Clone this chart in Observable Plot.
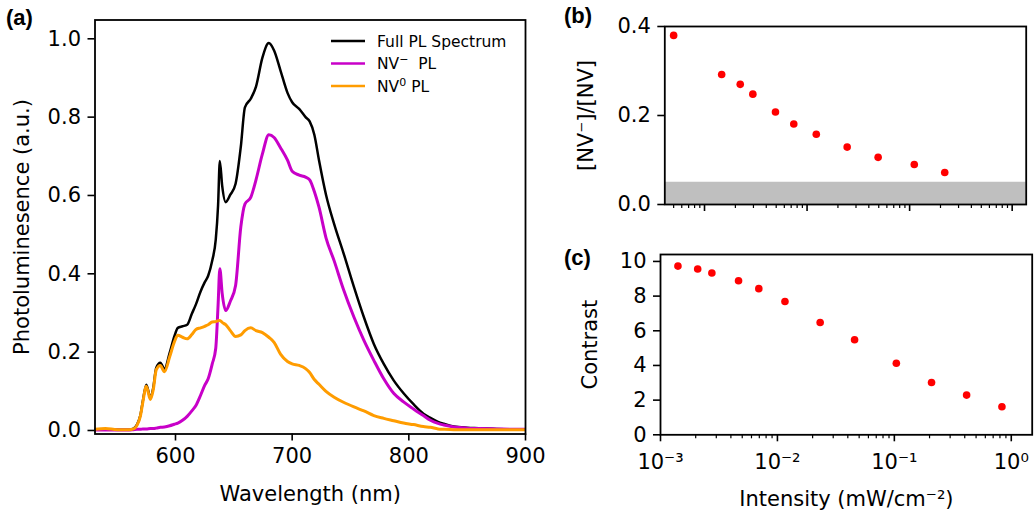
<!DOCTYPE html>
<html>
<head>
<meta charset="utf-8">
<script src="https://cdn.jsdelivr.net/npm/d3@7"></script>
<script src="https://cdn.jsdelivr.net/npm/@observablehq/plot@0.6"></script>
<style>
  html, body { margin: 0; padding: 0; background: #fff; }
  #root { position: relative; width: 1034px; height: 516px; overflow: hidden; background: #fff; }
  #root > svg, #root > div { position: absolute; }
  .overlay text { font-family: "DejaVu Sans", sans-serif; white-space: pre; }
  .overlay .plabel { font-family: "Liberation Sans", Arial, sans-serif; font-weight: bold; font-size: 22px; }
</style>
</head>
<body>
<div id="root"></div>
<script>
// ---------- Panel (a): PL spectra ----------
const wavelength = [531, 540, 550, 560, 564, 567, 570, 572, 575, 578.5, 581, 583.5, 587, 590.5, 595, 599, 602, 606, 610, 614, 617.5, 621.5, 625, 628, 631.5, 634.5, 636.5, 638, 640, 643, 647, 651.5, 656, 659.5, 664.5, 669, 674.5, 680, 684.5, 690, 696, 700, 706, 711.5, 715, 719, 723, 729, 736, 744, 753, 761.5, 770, 778.5, 787, 795.5, 804, 812.5, 818.5, 825, 830, 838.5, 850, 860, 875, 890, 900];
const fullPL = [0.002, 0.003, 0.002, 0.002, 0.005, 0.015, 0.04, 0.075, 0.117, 0.083, 0.11, 0.16, 0.173, 0.157, 0.198, 0.24, 0.262, 0.266, 0.27, 0.298, 0.322, 0.355, 0.378, 0.395, 0.434, 0.487, 0.575, 0.688, 0.625, 0.583, 0.602, 0.63, 0.725, 0.825, 0.847, 0.878, 0.952, 0.989, 0.97, 0.919, 0.862, 0.838, 0.821, 0.8, 0.789, 0.755, 0.69, 0.602, 0.527, 0.453, 0.366, 0.289, 0.221, 0.17, 0.128, 0.095, 0.067, 0.043, 0.032, 0.022, 0.017, 0.01, 0.007, 0.006, 0.004, 0.003, 0.003];
const nvMinusPL = [0.001, 0.001, 0.001, 0.001, 0.002, 0.003, 0.003, 0.004, 0.004, 0.005, 0.005, 0.006, 0.008, 0.009, 0.012, 0.016, 0.019, 0.026, 0.036, 0.05, 0.064, 0.09, 0.115, 0.132, 0.17, 0.21, 0.32, 0.413, 0.35, 0.306, 0.33, 0.37, 0.52, 0.578, 0.595, 0.64, 0.706, 0.755, 0.748, 0.722, 0.69, 0.662, 0.652, 0.647, 0.64, 0.61, 0.57, 0.492, 0.433, 0.36, 0.289, 0.23, 0.179, 0.132, 0.095, 0.073, 0.055, 0.038, 0.026, 0.018, 0.014, 0.009, 0.006, 0.005, 0.004, 0.003, 0.003];
const nv0PL = [0.003, 0.005, 0.002, 0.002, 0.004, 0.013, 0.038, 0.072, 0.113, 0.079, 0.105, 0.155, 0.166, 0.15, 0.188, 0.226, 0.243, 0.238, 0.234, 0.245, 0.258, 0.262, 0.266, 0.27, 0.277, 0.278, 0.28, 0.281, 0.276, 0.27, 0.255, 0.24, 0.244, 0.255, 0.262, 0.255, 0.25, 0.238, 0.225, 0.195, 0.176, 0.17, 0.166, 0.158, 0.148, 0.13, 0.118, 0.1, 0.085, 0.072, 0.06, 0.05, 0.038, 0.031, 0.025, 0.019, 0.015, 0.01, 0.008, 0.004, 0.003, 0.002, 0.002, 0.002, 0.002, 0.002, 0.002];
const wavelengthTicks = [600, 700, 800, 900];
const plTicks = [0, 0.2, 0.4, 0.6, 0.8, 1.0];

// ---------- Panel (b): charge-state ratio ----------
const ratioIntensity = [5.0e-4, 1.47e-3, 2.23e-3, 2.96e-3, 4.92e-3, 7.42e-3, 1.23e-2, 2.46e-2, 4.93e-2, 0.111, 0.22];
const ratio = [0.38, 0.292, 0.27, 0.248, 0.208, 0.181, 0.158, 0.129, 0.106, 0.09, 0.072];
const ratioBand = [0, 0.05];
const ratioTicks = [0, 0.2, 0.4];

// ---------- Panel (c): contrast ----------
const contrastIntensity = [1.41e-3, 2.08e-3, 2.75e-3, 4.65e-3, 6.93e-3, 1.16e-2, 2.32e-2, 4.57e-2, 0.104, 0.208, 0.415, 0.832];
const contrast = [9.73, 9.56, 9.33, 8.89, 8.43, 7.69, 6.48, 5.48, 4.13, 3.02, 2.29, 1.62];
const contrastTicks = [0, 2, 4, 6, 8, 10];
const decadeTicks = [1e-3, 1e-2, 1e-1, 1];
const decadeLabels = ["10⁻³", "10⁻²", "10⁻¹", "10⁰"];

// minor log ticks (2..9 x each decade)
const minorTicks = d3.range(-4, 1).flatMap(e => d3.range(2, 10).map(m => m * Math.pow(10, e)));

const root = document.getElementById("root");
const baseStyle = {fontFamily: '"DejaVu Sans", sans-serif', fontSize: "21px", color: "black", background: "transparent", overflow: "visible"};
function place(el, left, top) { el.style.left = left + "px"; el.style.top = top + "px"; root.appendChild(el); }

const spectrum = wavelength.map((w, i) => ({w, full: fullPL[i], nvm: nvMinusPL[i], nv0: nv0PL[i]}));

const panelA = Plot.plot({
  width: 540, height: 516,
  marginLeft: 94.5, marginRight: 15, marginTop: 19.5, marginBottom: 82.5,
  style: baseStyle,
  x: {domain: [531, 900]},
  y: {domain: [-0.009, 1.048]},
  marks: [
    Plot.line(spectrum, {x: "w", y: "full", stroke: "#000000", strokeWidth: 2.5, curve: "monotone-x", clip: true}),
    Plot.line(spectrum, {x: "w", y: "nvm", stroke: "#c800c8", strokeWidth: 3, curve: "monotone-x", clip: true}),
    Plot.line(spectrum, {x: "w", y: "nv0", stroke: "#ff9c00", strokeWidth: 3, curve: "monotone-x", clip: true}),
    Plot.frame({stroke: "#000", strokeWidth: 1.8}),
    Plot.axisX({ticks: wavelengthTicks, tickSize: 7, tickPadding: 7, strokeWidth: 1.6, tickFormat: d => String(d),
      label: "Wavelength (nm)", labelAnchor: "center", labelOffset: 67, labelArrow: "none"}),
    Plot.axisY({ticks: plTicks, tickSize: 7, tickPadding: 7, strokeWidth: 1.6, tickFormat: d3.format(".1f"),
      label: "Photoluminesence (a.u.)", labelAnchor: "center", labelOffset: 80.5, labelArrow: "none"})
  ]
});
place(panelA, 0, 0);

const ratioRows = ratioIntensity.map((x, i) => ({x, y: ratio[i]}));
const panelB = Plot.plot({
  width: 494, height: 230,
  marginLeft: 124.3, marginRight: 8.3, marginTop: 26, marginBottom: 26,
  style: baseStyle,
  x: {type: "log", domain: [4.1e-4, 1.37]},
  y: {domain: [0, 0.4]},
  marks: [
    Plot.rectY([{y1: ratioBand[0], y2: ratioBand[1]}], {y1: "y1", y2: "y2", fill: "#bfbfbf"}),
    Plot.dot(ratioRows, {x: "x", y: "y", r: 3.8, fill: "#ff0000", stroke: "none"}),
    Plot.frame({stroke: "#000", strokeWidth: 1.8}),
    Plot.axisX({ticks: decadeTicks, tickSize: 7, strokeWidth: 1.6, tickFormat: () => "", label: null}),
    Plot.axisX({ticks: minorTicks.filter(t => t >= 4.1e-4 && t <= 1.37), tickSize: 4, strokeWidth: 1.2, tickFormat: () => "", label: null}),
    Plot.axisY({ticks: ratioTicks, tickSize: 7, tickPadding: 7, strokeWidth: 1.6, tickFormat: d3.format(".1f"),
      label: "[NV⁻]/[NV]", labelAnchor: "center", labelOffset: 87, labelArrow: "none"})
  ]
});
place(panelB, 540, 0);

const contrastRows = contrastIntensity.map((x, i) => ({x, y: contrast[i]}));
const panelC = Plot.plot({
  width: 494, height: 286,
  marginLeft: 120, marginRight: 2.3, marginTop: 24, marginBottom: 81.7,
  style: baseStyle,
  x: {type: "log", domain: [1e-3, 1.51]},
  y: {domain: [0, 10.4]},
  marks: [
    Plot.dot(contrastRows, {x: "x", y: "y", r: 3.8, fill: "#ff0000", stroke: "none"}),
    Plot.frame({stroke: "#000", strokeWidth: 1.8}),
    Plot.axisX({ticks: decadeTicks, tickSize: 7, tickPadding: 12, strokeWidth: 1.6,
      tickFormat: d => decadeLabels[decadeTicks.indexOf(d)],
      label: "Intensity (mW/cm⁻²)", labelAnchor: "center", labelOffset: 71, labelArrow: "none"}),
    Plot.axisX({ticks: minorTicks.filter(t => t >= 1e-3 && t <= 1.51), tickSize: 4, strokeWidth: 1.2, tickFormat: () => "", label: null}),
    Plot.axisY({ticks: contrastTicks, tickSize: 7, tickPadding: 7, strokeWidth: 1.6, tickFormat: d => String(d),
      label: "Contrast", labelAnchor: "center", labelOffset: 78, labelArrow: "none"})
  ]
});
place(panelC, 540, 230);

// ---------- overlay: panel letters and legend ----------
const ns = "http://www.w3.org/2000/svg";
const ov = document.createElementNS(ns, "svg");
ov.setAttribute("class", "overlay");
ov.setAttribute("width", 1034); ov.setAttribute("height", 516);
ov.style.left = "0px"; ov.style.top = "0px"; ov.style.pointerEvents = "none";
ov.innerHTML = `
  <text class="plabel" x="6" y="25">(a)</text>
  <text class="plabel" x="564" y="23">(b)</text>
  <text class="plabel" x="564" y="265">(c)</text>
  <g font-size="15.5">
    <line x1="331" x2="365" y1="41" y2="41" stroke="#000" stroke-width="2.5"/>
    <text x="377" y="41" dy="0.36em">Full PL Spectrum</text>
    <line x1="331" x2="365" y1="63.5" y2="63.5" stroke="#c800c8" stroke-width="2.5"/>
    <text x="377" y="63.5" dy="0.36em">NV<tspan dy="-6" font-size="11">−</tspan><tspan dy="6">  PL</tspan></text>
    <line x1="331" x2="365" y1="86" y2="86" stroke="#ff9c00" stroke-width="2.5"/>
    <text x="377" y="86" dy="0.36em">NV<tspan dy="-6" font-size="11">0</tspan><tspan dy="6"> PL</tspan></text>
  </g>`;
root.appendChild(ov);
</script>
</body>
</html>
